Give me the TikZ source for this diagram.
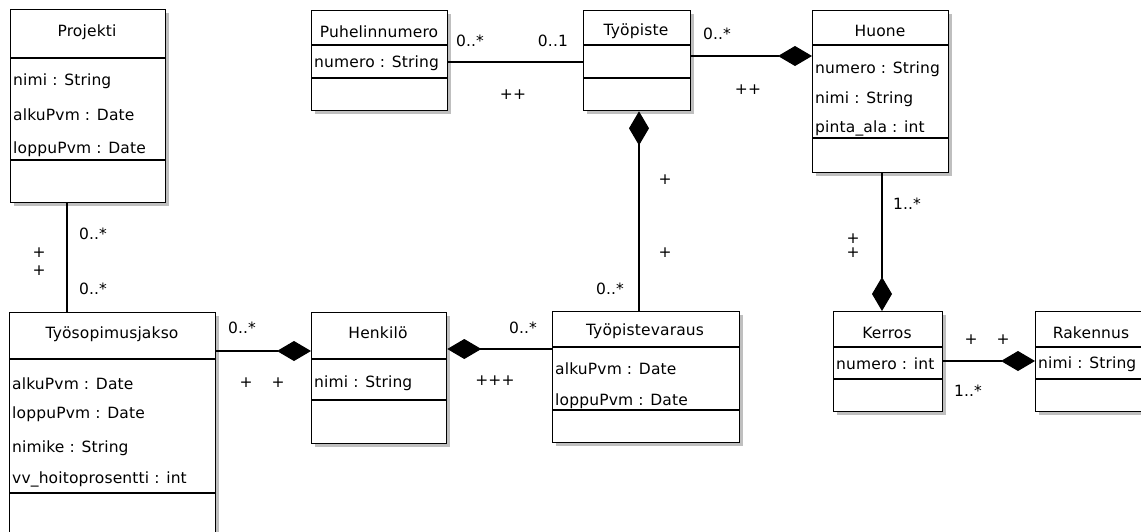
\documentclass[tikz,border=0pt]{standalone}
\usepackage{fontspec}
\setmainfont{DejaVu Sans}[LetterSpace=1]
\usetikzlibrary{arrows.meta,shadows,calc}

\tikzset{
  umlclass/.style={draw, line width=1.3pt, anchor=north west, inner sep=0pt, fill=white,
    drop shadow={shadow xshift=3pt, shadow yshift=-3pt, fill=black!25, opacity=1}},
  divider/.style={line width=1.1pt},
  attr/.style={anchor=west, inner sep=0pt},
  mult/.style={inner sep=0pt},
  assoc/.style={line width=1.1pt},
  comp/.style={line width=1.1pt, -{Diamond[length=34pt,width=20pt]}},
  compback/.style={line width=1.1pt, {Diamond[length=34pt,width=20pt]}-},
}

\begin{document}
\begin{tikzpicture}[x=1pt, y=-1pt, font=\fontsize{15.5}{18}\selectfont]
  \useasboundingbox (0,0) rectangle (1141,531);
  \clip (0,0) rectangle (1141,531);

  % Projekti
  \node [umlclass, minimum width=155, minimum height=193] (proj) at (10,9) {};
  \draw [divider] (10,58) -- (165,58);
  \draw [divider] (10,160) -- (165,160);
  \node (projname) at (87,32) {Projekti};
  \node [attr] (projnimi) at (13,81) {nimi : String};
  \node [attr] (projalku) at (13,115) {alkuPvm : Date};
  \node [attr] (projloppu) at (13,149) {loppuPvm : Date};

  % Puhelinnumero
  \node [umlclass, minimum width=136, minimum height=100] (puh) at (311,10) {};
  \draw [divider] (311,45) -- (447,45);
  \draw [divider] (311,78) -- (447,78);
  \node (puhname) at (379,32) {Puhelinnumero};
  \node [attr] (puhnro) at (314,63) {numero : String};

  % Tyopiste
  \node [umlclass, minimum width=107, minimum height=100] (tp) at (583,10) {};
  \draw [divider] (583,45) -- (690,45);
  \draw [divider] (583,78) -- (690,78);
  \node (tpname) at (636,31) {Työpiste};

  % Huone
  \node [umlclass, minimum width=136, minimum height=162] (hu) at (812,10) {};
  \draw [divider] (812,45) -- (948,45);
  \draw [divider] (812,138) -- (948,138);
  \node (huname) at (880,31) {Huone};
  \node [attr] (hunro) at (815,69) {numero : String};
  \node [attr] (hunimi) at (815,99) {nimi : String};
  \node [attr] (huala) at (815,128) {pinta\_ala : int};

  % Tyosopimusjakso
  \node [umlclass, minimum width=206, minimum height=240] (tsj) at (9,312) {};
  \draw [divider] (9,359) -- (215,359);
  \draw [divider] (9,493) -- (215,493);
  \node (tsjname) at (112,334) {Työsopimusjakso};
  \node [attr] (tsjalku) at (12,384) {alkuPvm : Date};
  \node [attr] (tsjloppu) at (12,414) {loppuPvm : Date};
  \node [attr] (tsjnimike) at (12,448) {nimike : String};
  \node [attr] (tsjvv) at (12,479) {vv\_hoitoprosentti : int};

  % Henkilo
  \node [umlclass, minimum width=135, minimum height=131] (hen) at (311,312) {};
  \draw [divider] (311,359) -- (446,359);
  \draw [divider] (311,400) -- (446,400);
  \node (henname) at (378,333) {Henkilö};
  \node [attr] (hennimi) at (314,383) {nimi : String};

  % Tyopistevaraus
  \node [umlclass, minimum width=187, minimum height=131] (tpv) at (552,311) {};
  \draw [divider] (552,347) -- (739,347);
  \draw [divider] (552,410) -- (739,410);
  \node (tpvname) at (645,331) {Työpistevaraus};
  \node [attr] (tpvalku) at (555,369) {alkuPvm : Date};
  \node [attr] (tpvloppu) at (555,401) {loppuPvm : Date};

  % Kerros
  \node [umlclass, minimum width=109, minimum height=100] (ker) at (833,311) {};
  \draw [divider] (833,347) -- (942,347);
  \draw [divider] (833,379) -- (942,379);
  \node (kername) at (887,333) {Kerros};
  \node [attr] (kernro) at (836,364) {numero : int};

  % Rakennus
  \node [umlclass, minimum width=130, minimum height=100] (rak) at (1035,311) {};
  \draw [divider] (1035,347) -- (1165,347);
  \draw [divider] (1035,379) -- (1165,379);
  \node (rakname) at (1091,333) {Rakennus};
  \node [attr] (raknimi) at (1038,364) {nimi : String};

  % connectors
  \draw [assoc] ($(proj.south west)+(57,0)$) -- ($(tsj.north west)+(58,0)$);
  \draw [assoc] ($(puh.north east)+(0,52)$) -- ($(tp.north west)+(0,52)$);
  \draw [comp] ($(tp.north east)+(0,46)$) -- ($(hu.north west)+(0,46)$);
  \draw [comp] ($(hu.south west)+(70,0)$) -- ($(ker.north west)+(49,0)$);
  \draw [comp] ($(ker.north east)+(0,50)$) -- ($(rak.north west)+(0,50)$);
  \draw [compback] ($(tp.south west)+(56,0)$) -- ($(tpv.north west)+(87,0)$);
  \draw [comp] ($(tsj.north east)+(0,39)$) -- ($(hen.north west)+(0,39)$);
  \draw [compback] ($(hen.north east)+(0,37)$) -- ($(tpv.north west)+(0,38)$);

  % multiplicities
  \node [mult] (m1) at (93,234) {0..*};
  \node [mult] (m2) at (93,289) {0..*};
  \node [mult] (p1) at (39,253) {+};
  \node [mult] (p2) at (39,271) {+};
  \node [mult] (m3) at (470,41) {0..*};
  \node [mult] (m4) at (553,41) {0..1};
  \node [mult] (p3) at (513,95) {++};
  \node [mult] (m5) at (717,34) {0..*};
  \node [mult] (p4) at (748,90) {++};
  \node [mult] (p5) at (665,180) {+};
  \node [mult] (p6) at (665,253) {+};
  \node [mult] (m6) at (610,289) {0..*};
  \node [mult] (m7) at (907,204) {1..*};
  \node [mult] (p7) at (853,239) {+};
  \node [mult] (p8) at (853,253) {+};
  \node [mult] (p9) at (971,340) {+};
  \node [mult] (p10) at (1003,340) {+};
  \node [mult] (m8) at (968,391) {1..*};
  \node [mult] (m9) at (523,328) {0..*};
  \node [mult] (p11) at (495,381) {+++};
  \node [mult] (m10) at (242,328) {0..*};
  \node [mult] (p12) at (246,383) {+};
  \node [mult] (p13) at (278,383) {+};
\end{tikzpicture}
\end{document}
